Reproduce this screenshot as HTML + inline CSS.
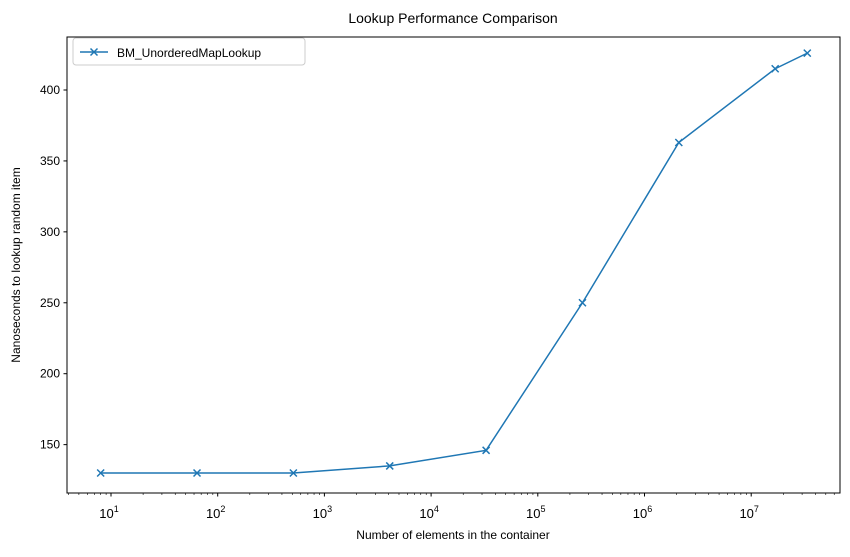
<!DOCTYPE html>
<html><head><meta charset="utf-8"><style>
body{margin:0;background:#fff;}
svg{font-family:"Liberation Sans","DejaVu Sans",sans-serif;}
</style></head><body>
<svg id="chart" width="850" height="552" xmlns="http://www.w3.org/2000/svg">
<rect width="850" height="552" fill="#fff"/>
<text x="453" y="23" font-size="14" text-anchor="middle">Lookup Performance Comparison</text>
<text x="453" y="539" font-size="12" text-anchor="middle">Number of elements in the container</text>
<text x="20" y="265" font-size="12" text-anchor="middle" transform="rotate(-90 20 265)">Nanoseconds to lookup random item</text>
<g id="axes"></g>
<g id="marks"></g>
<g>
<rect x="73" y="38" width="232" height="27" rx="3" fill="#fff" stroke="#ccc"/>
<line x1="80" y1="52" x2="108" y2="52" stroke="#1f77b4" stroke-width="1.5"/>
<path d="M90.5 48.5L97.5 55.5M97.5 48.5L90.5 55.5" stroke="#1f77b4" stroke-width="1.5"/>
<text x="117" y="57" font-size="12">BM_UnorderedMapLookup</text>
</g>
</svg>
<script>
const xValues=[8,64,512,4096,32768,262144,2097152,16777216,33554432];
const yValues=[130,130,130,135,146,250,363,415,426];
const yTicks=[150,200,250,300,350,400];
const xTickExps=[1,2,3,4,5,6,7];
const L=67,R=840,T=37,B=493;
const xDom=[1-44/106.7,1+729/106.7];
const yDom=[130-20/1.4185,400+53/1.4185];
const xs=v=>L+(Math.log10(v)-xDom[0])/(xDom[1]-xDom[0])*(R-L);
const ys=v=>B-(v-yDom[0])/(yDom[1]-yDom[0])*(B-T);
const NS="http://www.w3.org/2000/svg";
function mk(tag,attrs,parent,txt){const e=document.createElementNS(NS,tag);for(const k in attrs)e.setAttribute(k,attrs[k]);if(txt!==undefined)e.textContent=txt;parent.appendChild(e);return e;}
const ax=document.getElementById('axes'),mg=document.getElementById('marks');
yTicks.forEach(v=>{const y=ys(v);
 const t=mk('line',{x1:L-3.5,x2:L,y1:y,y2:y,stroke:'#000'},ax);
 
 
 const l=mk('text',{x:L-7,y:y+4,'font-size':12,'text-anchor':'end'},ax,String(v));
 
 
});
for(let d=0;d<=7;d++){for(let m=1;m<10;m++){const v=m*Math.pow(10,d);const x=xs(v);if(x<L||x>R)continue;
 const major=m===1;
 const t=mk('line',{x1:x,x2:x,y1:B,y2:B+(major?3.5:2),stroke:'#000','stroke-width':major?1:0.6},ax);
 
 
}}
xTickExps.forEach(e=>{const x=xs(Math.pow(10,e));
 const l=mk('text',{x:x-2,y:B+25,'font-size':13,'text-anchor':'middle'},ax,'10');
 
 
 mk('tspan',{dy:-6,'font-size':9},l,String(e));
});
const fr=mk('rect',{x:L,y:T,width:R-L,height:B-T,fill:'none',stroke:'#000','stroke-width':1},ax);


const pts=xValues.map((v,i)=>xs(v)+','+ys(yValues[i])).join(' ');
const line=mk('polyline',{points:pts,fill:'none',stroke:'#1f77b4','stroke-width':1.5},mg);


xValues.forEach((v,i)=>{const x=xs(v),y=ys(yValues[i]);
 const p=mk('path',{d:`M${x-3.5} ${y-3.5}L${x+3.5} ${y+3.5}M${x+3.5} ${y-3.5}L${x-3.5} ${y+3.5}`,stroke:'#1f77b4','stroke-width':1.5},mg);
 
 
});
</script>
</body></html>
